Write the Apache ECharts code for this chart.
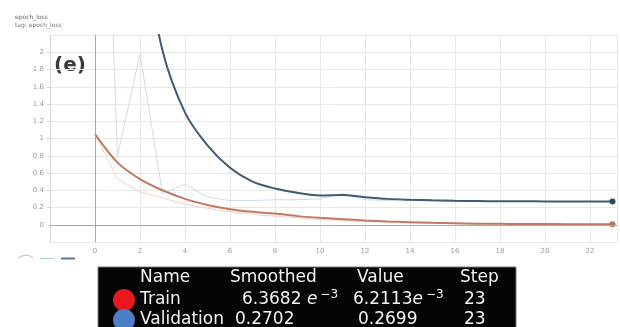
<!DOCTYPE html>
<html>
<head>
<meta charset="utf-8">
<script src="https://cdn.jsdelivr.net/npm/echarts@6/dist/echarts.min.js"></script>
<style>
  html, body { margin: 0; padding: 0; background: #ffffff; }
  #chart { width: 620px; height: 327px; }
</style>
</head>
<body>
<div id="chart"></div>
<script>
// epoch steps and loss values
const steps = [0, 1, 2, 3, 4, 5, 6, 7, 8, 9, 10, 11, 12, 13, 14, 15, 16, 17, 18, 19, 20, 21, 22, 23];
const trainRaw = [1.05, 0.53, 0.38, 0.31, 0.24, 0.19, 0.15, 0.12, 0.10, 0.08, 0.06, 0.05, 0.038, 0.03, 0.022, 0.017, 0.013, 0.011, 0.009, 0.008, 0.007, 0.0066, 0.0063, 0.0062];
const trainSmoothed = [1.05, 0.72, 0.53, 0.40, 0.30, 0.23, 0.18, 0.15, 0.13, 0.10, 0.08, 0.065, 0.05, 0.038, 0.03, 0.022, 0.017, 0.013, 0.011, 0.009, 0.008, 0.0072, 0.0067, 0.0064];
const validationRaw = [8.0, 0.80, 1.98, 0.36, 0.47, 0.32, 0.28, 0.28, 0.29, 0.29, 0.30, 0.36, 0.29, 0.28, 0.28, 0.275, 0.272, 0.271, 0.27, 0.27, 0.27, 0.27, 0.27, 0.2699];
const validationSmoothed = [8.0, 5.2, 3.4, 2.02, 1.30, 0.92, 0.66, 0.50, 0.42, 0.37, 0.34, 0.345, 0.32, 0.30, 0.29, 0.283, 0.278, 0.275, 0.273, 0.272, 0.271, 0.2705, 0.2703, 0.2702];

// summary table under the chart
const tableHeader = ["Name", "Smoothed", "Value", "Step"];
const tableRows = [
  { name: "Train", color: "#e8181f", smoothed: "6.3682 ", value: "6.2113", exp: true, step: "23" },
  { name: "Validation", color: "#4c7fc6", smoothed: "0.2702", value: "0.2699", exp: false, step: "23" },
];

const pairs = (ys) => steps.map((x, i) => [x, ys[i]]);
const lastDot = (size) => (value, params) => (params.dataIndex === steps.length - 1 ? size : 0);

const chart = echarts.init(document.getElementById("chart"), null, { renderer: "canvas" });

const font = "DejaVu Sans";
const colX = [140, 230, 357, 460];
const rowY = [278, 300, 320];

const tableGraphics = [
  {
    type: "rect",
    shape: { x: 98, y: 267, width: 418, height: 70 },
    style: { fill: "#050505", stroke: "#777", lineWidth: 1 },
  },
];
tableHeader.forEach((label, i) => {
  tableGraphics.push({
    type: "text",
    x: colX[i],
    y: rowY[0],
    style: { text: label, fill: "#f2f2f2", font: `17px "${font}"`, verticalAlign: "middle" },
  });
});
tableRows.forEach((row, r) => {
  const y = rowY[r + 1];
  tableGraphics.push({
    type: "circle",
    shape: { cx: 124, cy: y, r: 11 },
    style: { fill: row.color },
  });
  tableGraphics.push({
    type: "text",
    x: 140,
    y,
    style: { text: row.name, fill: "#f2f2f2", font: `17px "${font}"`, verticalAlign: "middle" },
  });
  const num = (txt, x) => ({
    type: "text",
    x,
    y,
    style: row.exp
      ? {
          text: `{n|${txt}}{e|e}{s|−3}`,
          verticalAlign: "middle",
          rich: {
            n: { fill: "#f2f2f2", font: `17px "${font}"` },
            e: { fill: "#f2f2f2", font: `italic 17px "${font}"`, padding: [0, 3, 0, 0] },
            s: { fill: "#f2f2f2", font: `12px "${font}"`, padding: [0, 0, 10, 0] },
          },
        }
      : { text: txt, fill: "#f2f2f2", font: `17px "${font}"`, verticalAlign: "middle" },
  });
  tableGraphics.push(num(row.smoothed, r === 0 ? 242 : 235));
  tableGraphics.push(num(row.value, r === 0 ? 353 : 358));
  tableGraphics.push({
    type: "text",
    x: 464,
    y,
    style: { text: row.step, fill: "#f2f2f2", font: `17px "${font}"`, verticalAlign: "middle" },
  });
});

chart.setOption({
  animation: false,
  backgroundColor: "#ffffff",
  grid: { left: 50, right: 3, top: 35, bottom: 85 },
  xAxis: {
    type: "value",
    min: -2,
    max: 23.2,
    interval: 2,
    axisLine: { lineStyle: { color: "#d8d8d8" } },
    axisTick: { show: false },
    axisLabel: {
      color: "#9a9a9a",
      fontSize: 7,
      margin: 6,
      showMinLabel: false,
      showMaxLabel: false,
      fontFamily: font,
    },
    splitLine: { lineStyle: { color: "#e8e8e8" } },
  },
  yAxis: {
    type: "value",
    min: -0.2,
    max: 2.2,
    interval: 0.2,
    axisLine: { show: true, onZero: false, lineStyle: { color: "#d8d8d8" } },
    axisTick: { show: true, length: 3, lineStyle: { color: "#d0d0d0" } },
    axisLabel: {
      color: "#9a9a9a",
      fontSize: 7,
      margin: 6,
      showMinLabel: false,
      showMaxLabel: false,
      fontFamily: font,
      formatter: (v) => String(Math.round(v * 10) / 10),
    },
    splitLine: { lineStyle: { color: "#e8e8e8" } },
  },
  series: [
    {
      name: "Train raw",
      type: "line",
      data: pairs(trainRaw),
      symbol: "none",
      lineStyle: { color: "#f6d3c6", width: 1 },
      markLine: {
        silent: true,
        symbol: "none",
        label: { show: false },
        lineStyle: { color: "#a8a8a8", type: "solid", width: 1 },
        data: [{ yAxis: 0 }, { xAxis: 0 }],
      },
      z: 2,
    },
    {
      name: "Validation raw",
      type: "line",
      data: pairs(validationRaw),
      symbol: "none",
      lineStyle: { color: "#cbdcea", width: 1 },
      z: 2,
    },
    {
      name: "Train",
      type: "line",
      data: pairs(trainSmoothed),
      smooth: 0.3,
      symbol: "circle",
      symbolSize: lastDot(6),
      showAllSymbol: true,
      itemStyle: { color: "#b07360" },
      lineStyle: { color: "#c07a62", width: 2 },
      z: 3,
    },
    {
      name: "Validation",
      type: "line",
      data: pairs(validationSmoothed),
      smooth: 0.3,
      symbol: "circle",
      symbolSize: lastDot(6),
      showAllSymbol: true,
      itemStyle: { color: "#2e4760" },
      lineStyle: { color: "#3f5a74", width: 2 },
      z: 3,
    },
  ],
  graphic: [
    { type: "text", x: 15, y: 14, style: { text: "epoch_loss", fill: "#666", font: `6px "${font}"` } },
    { type: "text", x: 15, y: 22, style: { text: "tag: epoch_loss", fill: "#777", font: `6px "${font}"` } },
    { type: "text", x: 54, y: 56, style: { text: "(e)", fill: "#3a3a3a", font: `bold 20px "${font}"` } },
    // toolbar glyphs bottom-left
    { type: "polyline", shape: { points: [[18, 258], [22, 256], [26, 255], [30, 256], [33, 258]] }, style: { stroke: "#bbbbbb", lineWidth: 1, fill: null } },
    { type: "line", shape: { x1: 40, y1: 258.5, x2: 54, y2: 258.5 }, style: { stroke: "#a9c4db", lineWidth: 1 } },
    { type: "line", shape: { x1: 61, y1: 258.5, x2: 75, y2: 258.5 }, style: { stroke: "#5d7a95", lineWidth: 2 } },
    ...tableGraphics,
  ],
});
</script>
</body>
</html>
